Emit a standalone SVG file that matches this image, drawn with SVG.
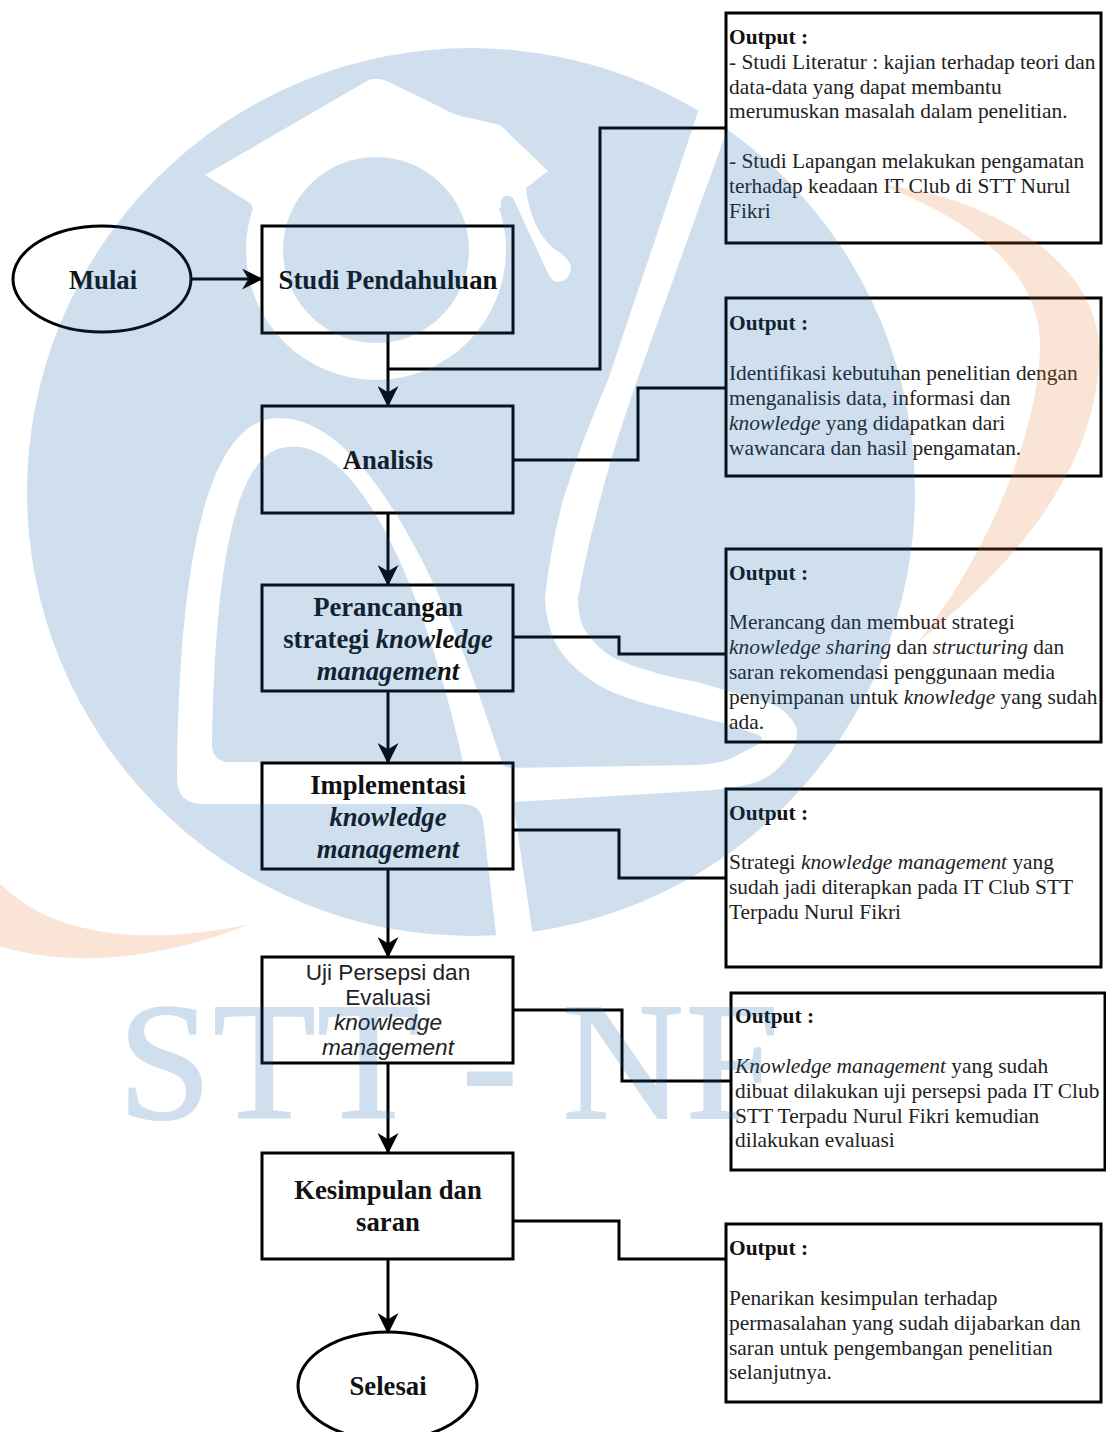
<svg xmlns="http://www.w3.org/2000/svg" width="1106" height="1432" viewBox="0 0 1106 1432">
<style>
.shape{fill:none;stroke:#000;stroke-width:3}
.conn{fill:none;stroke:#000;stroke-width:3}
.arrow{marker-end:url(#ah)}
text{font-family:"Liberation Serif","Times New Roman",serif;fill:#111}
.big{font-size:26.7px;font-weight:700;text-anchor:middle}
.uji{font-family:"Liberation Sans",Arial,sans-serif;font-size:22.6px;text-anchor:middle;fill:#222}
.out{font-size:21.4px;fill:#222}
.out .h{font-weight:700;fill:#111}
.it{font-style:italic}
.wm{fill:#1565ac;opacity:.2}
.wmt{fill:#1565ac;stroke:#1565ac;stroke-width:2;opacity:.2;font-size:168px;letter-spacing:1.5px}
.or{fill:#e87a2e;opacity:.2}
</style>
<defs>
<marker id="ah" markerUnits="userSpaceOnUse" markerWidth="21" markerHeight="21" viewBox="0 0 20 20" refX="19" refY="10" orient="auto"><path d="M0,0L20,10L0,20L6,10Z" fill="#000"/></marker>
<mask id="logo" maskUnits="userSpaceOnUse" x="0" y="0" width="1106" height="1432">
<circle cx="471" cy="492" r="444" fill="#fff"/>
<circle cx="376" cy="250" r="130" fill="#000"/>
<path fill="#000" d="M205,175L367,81Q375,76 389,82L440,107Q455,116 470,118L500,125L548,171L526,188Q527,200 531,212Q538,235 553,248Q570,258 571,268Q570,280 558,282Q552,282 548,273L513,198Q508,194 503,197Q500,200 501,207L440,250L300,250L253,217Q254,207 250,203Z"/>
<path fill="#000" d="M530,960L496,934L483,820Q480,805 464,804L200,804Q178,802 177,780C178,640 190,418 279,418C370,418 450,600 501,760Q502,767 510,768L697,765Q718,764 732,758L759,744Q765,738 759,735L727,724L647,704Q605,692 588,678Q565,662 555,642Q546,622 545,598Q550,550 563,500Q582,440 608,380L698,112L712,95L740,115L727,130L637,380L617,440Q590,530 578,598Q578,615 583,627Q597,650 618,660Q655,675 697,682L772,704Q790,712 797,729Q798,745 787,758Q775,775 757,782Q730,790 697,791L513,802L533,936Z"/>
<path fill="#fff" d="M225,762L463,762C425,590 360,440 289,447C225,447 214,620 212,747Q214,760 225,762Z"/>
<circle cx="376" cy="250" r="93" fill="#fff"/>
</mask>
</defs>
<rect width="1106" height="1432" fill="#fff"/>
<g id="connectors">
<path class="conn arrow" d="M191,279H262"/>
<path class="conn arrow" d="M388,333V406"/>
<path class="conn" d="M388,369H600V128H726"/>
<path class="conn" d="M513,460H638V388H726"/>
<path class="conn arrow" d="M388,513V585"/>
<path class="conn" d="M513,637H619V654H726"/>
<path class="conn arrow" d="M388,691V763"/>
<path class="conn" d="M513,830H619V878H726"/>
<path class="conn arrow" d="M388,869V957"/>
<path class="conn" d="M513,1010H622V1081H731"/>
<path class="conn arrow" d="M388,1063V1153"/>
<path class="conn" d="M513,1221H619V1259H726"/>
<path class="conn arrow" d="M388,1259V1333"/>
</g>
<g id="mulai"><ellipse class="shape" cx="102" cy="279" rx="89" ry="53"/><text class="big" x="103" y="289">Mulai</text></g>
<g id="studi"><rect class="shape" x="262" y="226" width="251" height="107"/><text class="big" x="388" y="289">Studi Pendahuluan</text></g>
<g id="analisis"><rect class="shape" x="262" y="406" width="251" height="107"/><text class="big" x="388" y="469">Analisis</text></g>
<g id="perancangan"><rect class="shape" x="262" y="585" width="251" height="106"/><text class="big" x="388" y="616">Perancangan</text><text class="big" x="388" y="648">strategi <tspan class="it">knowledge</tspan></text><text class="big it" x="388" y="680">management</text></g>
<g id="implementasi"><rect class="shape" x="262" y="763" width="251" height="106"/><text class="big" x="388" y="794">Implementasi</text><text class="big it" x="388" y="826">knowledge</text><text class="big it" x="388" y="858">management</text></g>
<g id="uji"><rect class="shape" x="262" y="957" width="251" height="106"/><text class="uji" x="388" y="980">Uji Persepsi dan</text><text class="uji" x="388" y="1005">Evaluasi</text><text class="uji it" x="388" y="1030">knowledge</text><text class="uji it" x="388" y="1055">management</text></g>
<g id="kesimpulan"><rect class="shape" x="262" y="1153" width="251" height="106"/><text class="big" x="388" y="1199">Kesimpulan dan</text><text class="big" x="388" y="1231">saran</text></g>
<g id="selesai"><ellipse class="shape" cx="387.500" cy="1386" rx="89.500" ry="54"/><text class="big" x="388" y="1395">Selesai</text></g>
<g id="output1"><rect class="shape" x="726" y="13" width="375" height="230"/><text class="out" x="729"><tspan class="h" x="729" y="44">Output :</tspan><tspan x="729" y="68.500">- Studi Literatur : kajian terhadap teori dan</tspan><tspan x="729" y="93.500">data-data yang dapat membantu</tspan><tspan x="729" y="118">merumuskan masalah dalam penelitian.</tspan><tspan x="729" y="168">- Studi Lapangan melakukan pengamatan</tspan><tspan x="729" y="193">terhadap keadaan IT Club di STT Nurul</tspan><tspan x="729" y="218">Fikri</tspan></text></g>
<g id="output2"><rect class="shape" x="726" y="298" width="375" height="178"/><text class="out"><tspan class="h" x="729" y="330">Output :</tspan><tspan x="729" y="380">Identifikasi kebutuhan penelitian dengan</tspan><tspan x="729" y="405">menganalisis data, informasi dan</tspan><tspan class="it" x="729" y="430">knowledge</tspan><tspan> yang didapatkan dari</tspan><tspan x="729" y="455">wawancara dan hasil pengamatan.</tspan></text></g>
<g id="output3"><rect class="shape" x="726" y="549" width="375" height="193"/><text class="out"><tspan class="h" x="729" y="580">Output :</tspan><tspan x="729" y="629">Merancang dan membuat strategi</tspan><tspan class="it" x="729" y="654">knowledge sharing</tspan><tspan> dan </tspan><tspan class="it">structuring</tspan><tspan> dan</tspan><tspan x="729" y="679">saran rekomendasi penggunaan media</tspan><tspan x="729" y="704">penyimpanan untuk </tspan><tspan class="it">knowledge</tspan><tspan> yang sudah</tspan><tspan x="729" y="729">ada.</tspan></text></g>
<g id="output4"><rect class="shape" x="726" y="789" width="375" height="178"/><text class="out"><tspan class="h" x="729" y="820">Output :</tspan><tspan x="729" y="869">Strategi </tspan><tspan class="it">knowledge management</tspan><tspan> yang</tspan><tspan x="729" y="894">sudah jadi diterapkan pada IT Club STT</tspan><tspan x="729" y="919">Terpadu Nurul Fikri</tspan></text></g>
<g id="output5"><rect class="shape" x="731" y="993" width="374" height="177"/><text class="out"><tspan class="h" x="735" y="1023">Output :</tspan><tspan class="it" x="735" y="1073">Knowledge management</tspan><tspan> yang sudah</tspan><tspan x="735" y="1098">dibuat dilakukan uji persepsi pada IT Club</tspan><tspan x="735" y="1123">STT Terpadu Nurul Fikri kemudian</tspan><tspan x="735" y="1147">dilakukan evaluasi</tspan></text></g>
<g id="output6"><rect class="shape" x="726" y="1224" width="375" height="178"/><text class="out"><tspan class="h" x="729" y="1255">Output :</tspan><tspan x="729" y="1305">Penarikan kesimpulan terhadap</tspan><tspan x="729" y="1330">permasalahan yang sudah dijabarkan dan</tspan><tspan x="729" y="1355">saran untuk pengembangan penelitian</tspan><tspan x="729" y="1379">selanjutnya.</tspan></text></g>
<g id="watermark">
<path class="or" d="M881,185C985,195 1099,260 1099,350C1100,450 1035,550 918,642C985,560 1040,430 1040,345C1040,265 960,215 881,185Z"/>
<path class="or" d="M-5,878C40,930 130,950 250,924C190,948 90,975 -5,945Z"/>
<rect class="wm" width="1106" height="1000" mask="url(#logo)"/>
<text class="wmt" x="118" y="1118">STT - NF</text>
</g>
</svg>
